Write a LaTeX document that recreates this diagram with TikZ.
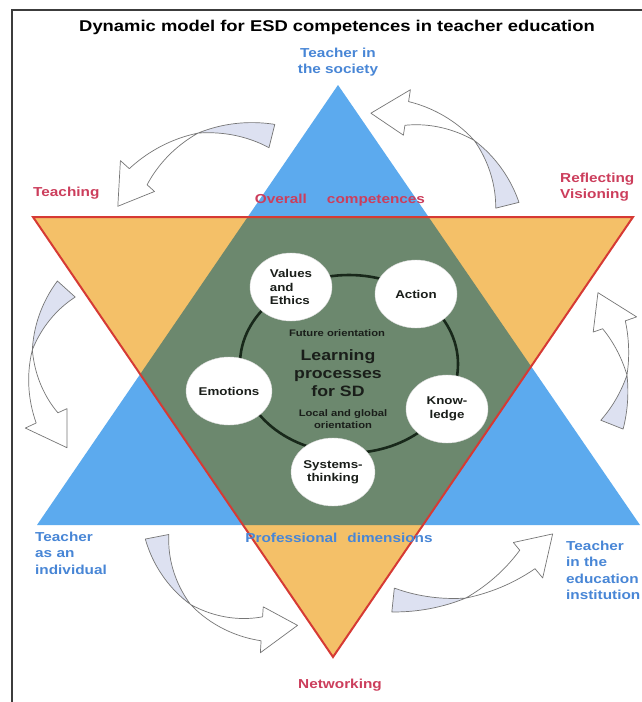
\documentclass[tikz,border=0pt]{standalone}
\usepackage{fontspec}
\setmainfont{Liberation Sans}[FakeStretch=1.18]
\usetikzlibrary{shapes.geometric}
\definecolor{tblue}{RGB}{92,170,238}
\definecolor{torange}{RGB}{244,192,104}
\definecolor{tgreen}{RGB}{108,136,110}
\definecolor{tred}{RGB}{214,58,52}
\definecolor{redtext}{RGB}{204,62,92}
\definecolor{bluetext}{RGB}{72,134,214}
\definecolor{lav}{RGB}{221,225,241}
\definecolor{arrgray}{RGB}{118,118,118}
\definecolor{framegray}{RGB}{60,60,60}
\definecolor{ringc}{RGB}{24,40,26}
\definecolor{darktext}{RGB}{26,30,26}
\tikzset{
  lab/.style={font=\fontsize{13}{16.3}\selectfont\bfseries, inner sep=0pt},
  redlab/.style={lab, text=redtext},
  bluelab/.style={lab, text=bluetext},
  bubble/.style={ellipse, fill=white, draw=white!85!black, line width=0.4pt,
    minimum width=82pt, minimum height=68pt, inner sep=0pt, align=left,
    text=darktext, font=\fontsize{11.3}{13.5}\selectfont\bfseries},
  smalltxt/.style={font=\fontsize{9.5}{12}\selectfont\bfseries, text=darktext, inner sep=0pt, align=center},
  arrline/.style={draw=arrgray, line width=0.7pt, line join=round}
}
% #1 cx, #2 cy, #3 r, #4 tail angle, #5 tip angle, #6 twist fraction
\newcommand\ribbonarrow[6]{%
  \pgfmathsetmacro\rO{#3+12}%
  \pgfmathsetmacro\rI{#3-12}%
  \pgfmathsetmacro\rC{#3+5}%
  \pgfmathsetmacro\rBO{#3+24}%
  \pgfmathsetmacro\rBI{#3-22}%
  \pgfmathsetmacro\hA{36/(#3)*180/pi}%
  \pgfmathsetmacro\sG{((#5)>(#4))?1:-1}%
  \pgfmathsetmacro\aN{(#5)-\sG*\hA}%
  \pgfmathsetmacro\aM{(#4)+(#6)*(\aN-(#4))}%
  \draw[arrline, fill=white]
    plot[domain=\aM:\aN, samples=25] ({#1+(\rC+(\rO-\rC)*(\x-\aM)/(\aN-\aM))*cos(\x)},{#2+(\rC+(\rO-\rC)*(\x-\aM)/(\aN-\aM))*sin(\x)})
    -- ({#1+\rBO*cos(\aN)},{#2+\rBO*sin(\aN)})
    -- ({#1+#3*cos(#5)},{#2+#3*sin(#5)})
    -- ({#1+\rBI*cos(\aN)},{#2+\rBI*sin(\aN)})
    -- ({#1+\rI*cos(\aN)},{#2+\rI*sin(\aN)})
    -- plot[domain=\aN:\aM, samples=25] ({#1+(\rC+(\rI-\rC)*(\x-\aM)/(\aN-\aM))*cos(\x)},{#2+(\rC+(\rI-\rC)*(\x-\aM)/(\aN-\aM))*sin(\x)})
    -- cycle;
  \draw[arrline, fill=lav]
    plot[domain=#4:\aM, samples=25] ({#1+(\rO+(\rC-\rO)*(\x-(#4))/(\aM-(#4)))*cos(\x)},{#2+(\rO+(\rC-\rO)*(\x-(#4))/(\aM-(#4)))*sin(\x)})
    -- plot[domain=\aM:#4, samples=25] ({#1+(\rI+(\rC-\rI)*(\x-(#4))/(\aM-(#4)))*cos(\x)},{#2+(\rI+(\rC-\rI)*(\x-(#4))/(\aM-(#4)))*sin(\x)})
    -- cycle;
}
\begin{document}
\begin{tikzpicture}[x=1pt,y=-1pt]
\useasboundingbox (0,0) rectangle (642,702);
\fill[white] (0,0) rectangle (642,702);
% frame
\draw[framegray, line width=1.3pt] (12,702) -- (12,10) -- (642,10);
% triangles
\coordinate (B1) at (37,525);
\coordinate (B2) at (640,525);
\coordinate (B3) at (338,85);
\coordinate (O1) at (33,217);
\coordinate (O2) at (633,217);
\coordinate (O3) at (333,657);
\fill[tblue] (B1) -- (B2) -- (B3) -- cycle;
\fill[torange] (O1) -- (O2) -- (O3) -- cycle;
\begin{scope}
  \clip (B1) -- (B2) -- (B3) -- cycle;
  \fill[tgreen] (O1) -- (O2) -- (O3) -- cycle;
\end{scope}
\draw[tred, line width=2pt, line join=miter] (O1) -- (O2) -- (O3) -- cycle;
% curved arrows
\ribbonarrow{239}{268}{136}{-76}{-153}{0.5}
\ribbonarrow{388}{235}{123}{-14}{-98}{0.5}
\ribbonarrow{154}{368}{118}{222}{137.5}{0.5}
\ribbonarrow{269}{515}{114}{169}{75.5}{0.5}
\ribbonarrow{412}{420}{181}{96}{39}{0.5}
\ribbonarrow{479}{372}{143}{21.6}{-33.7}{0.5}
% ring and bubbles
\draw[ringc, line width=2.6pt] (349,364) ellipse [x radius=109pt, y radius=89pt];
\node[bubble] (val) at (291,287) {Values\\and\\Ethics};
\node[bubble] (act) at (416,294) {Action};
\node[bubble] (emo) at (229,391) {Emotions};
\node[bubble, align=center] (kno) at (447,409) {Know-\\ledge};
\node[bubble, align=center] (sys) at (333,472) {Systems-\\thinking};
% centre texts
\node[smalltxt] (fut) at (337,333) {Future orientation};
\node[font=\fontsize{15}{18}\selectfont\bfseries, text=darktext, inner sep=0pt, align=center] (lp) at (338,373) {Learning\\processes\\for SD};
\node[smalltxt] (loc) at (343,419) {Local and global\\orientation};
% labels
\node[font=\fontsize{15.6}{18}\selectfont\bfseries, inner sep=0pt] (title) at (337,27) {Dynamic model for ESD competences in teacher education};
\node[bluelab, align=center] (soc) at (338,62) {Teacher in\\the society};
\node[redlab, anchor=west] (teach) at (33,193) {Teaching};
\node[redlab, align=left, anchor=west] (refl) at (560,187) {Reflecting\\Visioning};
\node[redlab] (ov) at (340,200) {Overall\hspace{20pt}competences};
\node[bluelab] (prof) at (339,538) {Professional\hspace{10pt}dimensions};
\node[bluelab, align=left, anchor=north west] (indiv) at (35,532) {Teacher\\as an\\individual};
\node[bluelab, align=left, anchor=north west] (inst) at (566,541) {Teacher\\in the\\education\\institution};
\node[redlab] (net) at (340,685) {Networking};
\end{tikzpicture}
\end{document}
